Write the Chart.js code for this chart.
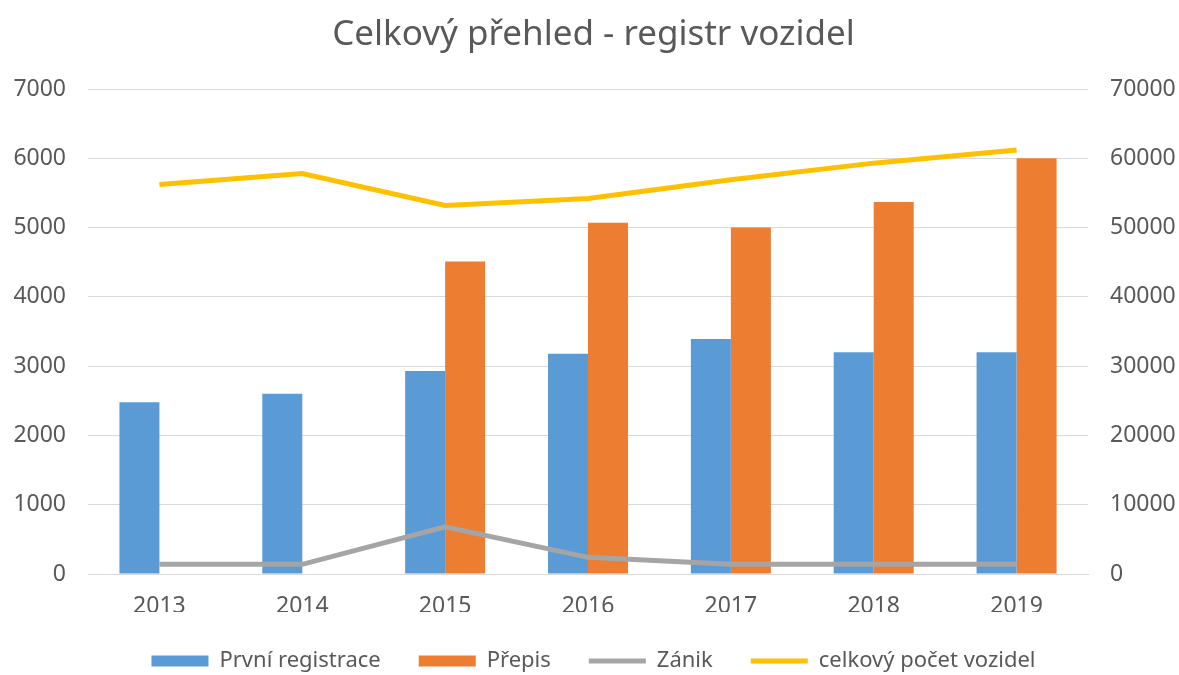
<!DOCTYPE html>
<html>
<head>
<meta charset="utf-8">
<script src="https://cdn.jsdelivr.net/npm/chart.js@4"></script>
<style>
  html, body { margin: 0; padding: 0; background: #fff; }
  #wrap { width: 1179px; height: 675px; }
</style>
</head>
<body>
<div id="wrap"><canvas id="chart" width="1179" height="675"></canvas></div>
<script>
const years = ["2013", "2014", "2015", "2016", "2017", "2018", "2019"];
const prvniRegistrace = [2480, 2600, 2930, 3180, 3390, 3200, 3200];
const prepis = [null, null, 4510, 5070, 5000, 5370, 6000];
const zanik = [1400, 1400, 6800, 2400, 1400, 1400, 1400];
const celkovyPocet = [56200, 57800, 53200, 54200, 56900, 59300, 61200];

const textColor = "#595959";
const fontFamily = "'Noto Sans', sans-serif";

const ctx = document.getElementById("chart").getContext("2d");
new Chart(ctx, {
    type: "bar",
    data: {
        labels: years,
        datasets: [
            {
                label: "První registrace",
                data: prvniRegistrace,
                backgroundColor: "#5B9BD5",
                borderWidth: 0,
                yAxisID: "y",
                order: 2,
                pointStyle: "rect"
            },
            {
                label: "Přepis",
                data: prepis,
                backgroundColor: "#ED7D31",
                borderWidth: 0,
                yAxisID: "y",
                order: 2,
                pointStyle: "rect"
            },
            {
                type: "line",
                label: "Zánik",
                data: zanik,
                borderColor: "#A5A5A5",
                backgroundColor: "#A5A5A5",
                borderWidth: 5,
                pointRadius: 0,
                pointStyle: "line",
                yAxisID: "y1",
                order: 1
            },
            {
                type: "line",
                label: "celkový počet vozidel",
                data: celkovyPocet,
                borderColor: "#FFC000",
                backgroundColor: "#FFC000",
                borderWidth: 5,
                pointRadius: 0,
                pointStyle: "line",
                yAxisID: "y1",
                order: 1
            }
        ]
    },
    options: {
        responsive: false,
        animation: false,
        layout: { padding: { left: 10, right: 2, top: 0, bottom: -7 } },
        datasets: {
            bar: { categoryPercentage: 0.56, barPercentage: 1 }
        },
        plugins: {
            title: {
                display: true,
                text: "Celkový přehled - registr vozidel",
                color: textColor,
                font: { family: fontFamily, size: 35, weight: "normal" },
                padding: { top: 14, bottom: 33 }
            },
            legend: {
                position: "bottom",
                labels: {
                    usePointStyle: true,
                    pointStyleWidth: 57,
                    boxHeight: 11,
                    color: textColor,
                    font: { family: fontFamily, size: 22 },
                    padding: 38,
                    sort: (a, b) => a.datasetIndex - b.datasetIndex
                }
            },
            tooltip: { enabled: false }
        },
        scales: {
            x: {
                grid: { display: false },
                border: { display: true, color: "#d9d9d9" },
                ticks: {
                    color: textColor,
                    font: { family: fontFamily, size: 23 },
                    padding: 11
                },
                afterFit: scale => { scale.height = 38; }
            },
            y: {
                position: "left",
                min: 0,
                max: 7000,
                grid: { color: "#d9d9d9", drawTicks: false },
                border: { display: false },
                ticks: {
                    stepSize: 1000,
                    color: textColor,
                    font: { family: fontFamily, size: 23 },
                    padding: 22,
                    callback: v => String(v)
                },
                afterFit: scale => { scale.width = 78; }
            },
            y1: {
                position: "right",
                min: 0,
                max: 70000,
                grid: { display: false, drawTicks: false },
                border: { display: false },
                ticks: {
                    stepSize: 10000,
                    color: textColor,
                    font: { family: fontFamily, size: 23 },
                    padding: 22,
                    callback: v => String(v)
                },
                afterFit: scale => { scale.width = 89; }
            }
        }
    }
});
</script>
</body>
</html>
